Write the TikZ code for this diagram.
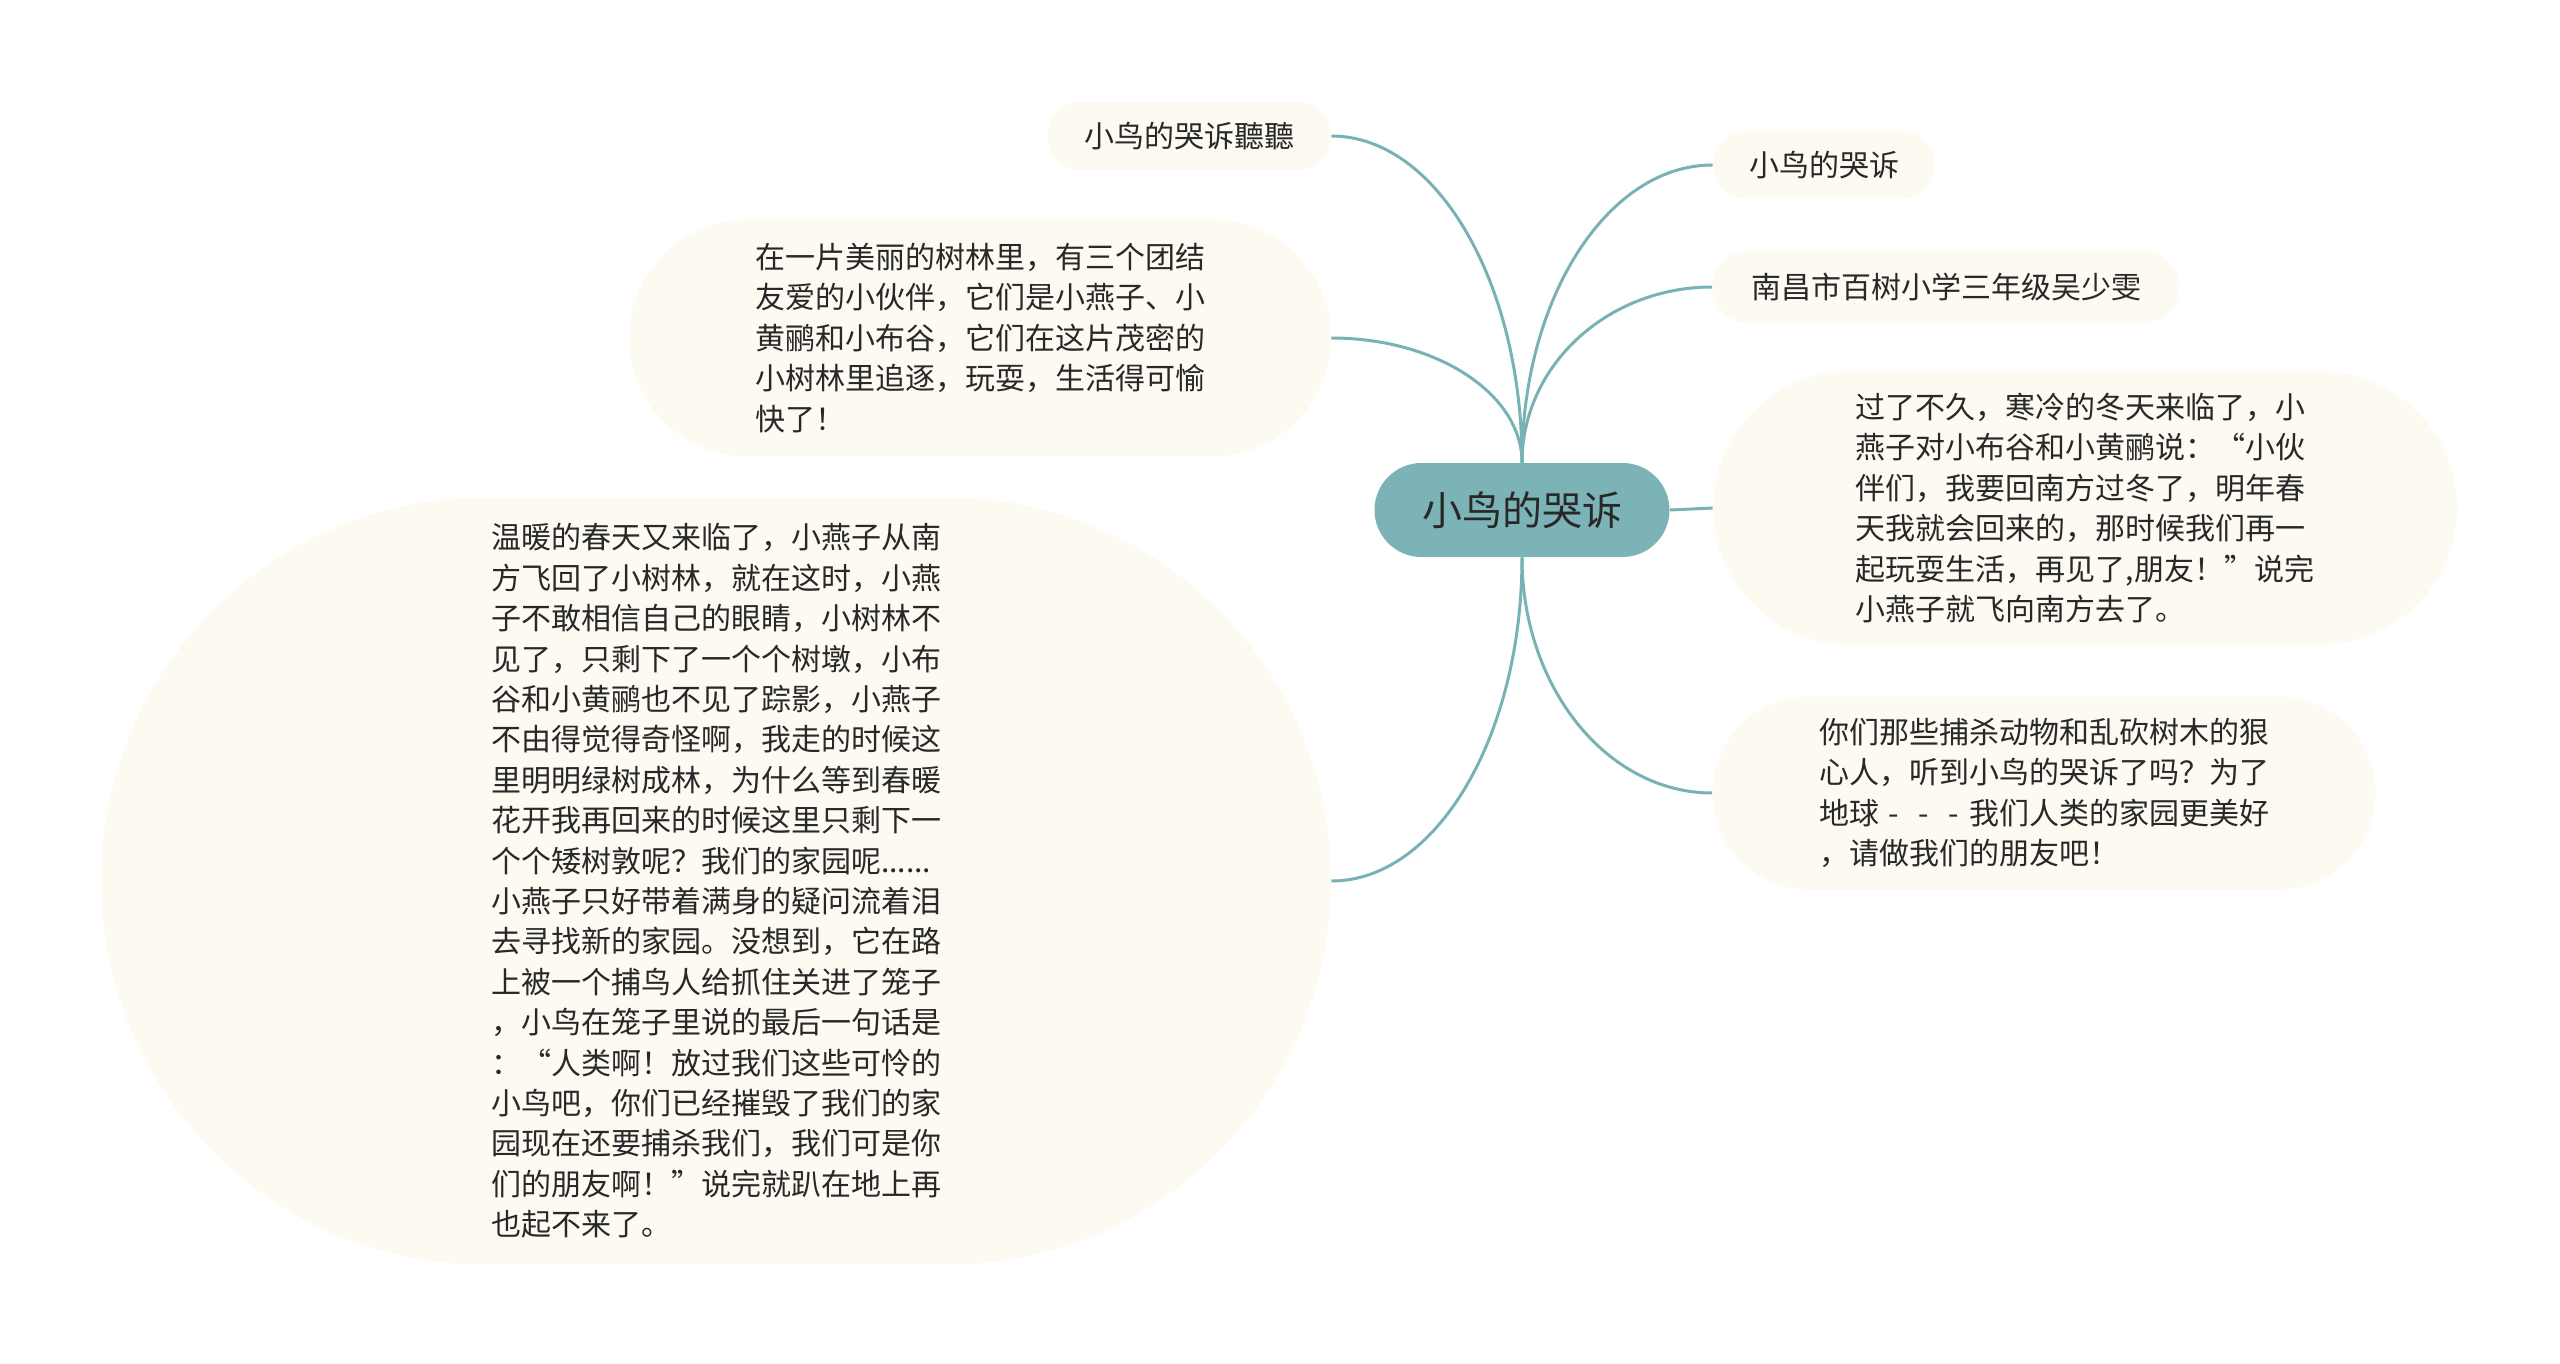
\documentclass[tikz,border=0pt]{standalone}
\usepackage{fontspec}
\setmainfont{Noto Sans CJK SC}
\usetikzlibrary{shapes.misc, backgrounds, calc}
\definecolor{branchteal}{RGB}{121,178,180}
\definecolor{rootteal}{RGB}{124,179,182}
\definecolor{cream}{RGB}{252,250,241}
\definecolor{inkgray}{RGB}{40,40,40}
\tikzstyle{bubble}=[rounded rectangle, fill=cream, inner sep=0pt, align=left, text=inkgray, font=\fontsize{15}{20.2}\selectfont]
\tikzstyle{branch}=[draw=branchteal, line width=1.5pt]
\tikzstyle{curvebranch}=[to path={.. controls ($(\tikztostart)!0.552!(\tikztostart |- \tikztotarget)$) and ($(\tikztotarget)!0.552!(\tikztostart |- \tikztotarget)$) .. (\tikztotarget)}]
\newcommand{\cjkdash}{\makebox[1em]{-}}

\begin{document}
\begin{tikzpicture}[x=0.5pt, y=-0.5pt]
    \useasboundingbox (0, 0) rectangle (2560, 1364);
% Root
    \node[rounded rectangle, fill=rootteal, inner sep=0pt, minimum width=147.5pt, minimum height=47pt, text=inkgray, font=\fontsize{20}{24}\selectfont] (root) at (1522, 510) {小鸟的哭诉};
% Left bubbles
    \node[bubble, minimum width=142pt, minimum height=34.5pt] (listen) at (1189, 136) {小鸟的哭诉聽聽};
    \node[bubble, minimum width=351pt, minimum height=118.5pt] (forest) at (980, 338) {在一片美丽的树林里，有三个团结\\友爱的小伙伴，它们是小燕子、小\\黄鹂和小布谷，它们在这片茂密的\\小树林里追逐，玩耍，生活得可愉\\快了！};
    \node[bubble, minimum width=615pt, minimum height=383.5pt] (spring) at (716, 881) {温暖的春天又来临了，小燕子从南\\方飞回了小树林，就在这时，小燕\\子不敢相信自己的眼睛，小树林不\\见了，只剩下了一个个树墩，小布\\谷和小黄鹂也不见了踪影，小燕子\\不由得觉得奇怪啊，我走的时候这\\里明明绿树成林，为什么等到春暖\\花开我再回来的时候这里只剩下一\\个个矮树敦呢？我们的家园呢......\\小燕子只好带着满身的疑问流着泪\\去寻找新的家园。没想到，它在路\\上被一个捕鸟人给抓住关进了笼子\\，小鸟在笼子里说的最后一句话是\\：“人类啊！放过我们这些可怜的\\小鸟吧，你们已经摧毁了我们的家\\园现在还要捕杀我们，我们可是你\\们的朋友啊！”说完就趴在地上再\\也起不来了。};
% Right bubbles
    \node[bubble, minimum width=111pt, minimum height=34pt] (title) at (1824, 165) {小鸟的哭诉};
    \node[bubble, minimum width=233.5pt, minimum height=36pt] (author) at (1946, 287) {南昌市百树小学三年级吴少雯};
    \node[bubble, minimum width=372pt, minimum height=136.5pt] (winter) at (2085, 508) {过了不久，寒冷的冬天来临了，小\\燕子对小布谷和小黄鹂说：“小伙\\伴们，我要回南方过冬了，明年春\\天我就会回来的，那时候我们再一\\起玩耍生活，再见了,朋友！”说完\\小燕子就飞向南方去了。};
    \node[bubble, minimum width=331.5pt, minimum height=96.5pt] (plea) at (2044, 793) {你们那些捕杀动物和乱砍树木的狠\\心人，听到小鸟的哭诉了吗？为了\\地球\cjkdash\cjkdash\cjkdash 我们人类的家园更美好\\，请做我们的朋友吧！};
% Branches
    \begin{scope}[on background layer]
    \draw[branch] (root.north) to[curvebranch] (listen.east);
    \draw[branch] (root.north) to[curvebranch] (forest.east);
    \draw[branch] (root.south) to[curvebranch] (spring.east);
    \draw[branch] (root.north) to[curvebranch] (title.west);
    \draw[branch] (root.north) to[curvebranch] (author.west);
    \draw[branch] (root.east) -- (winter.west);
    \draw[branch] (root.south) to[curvebranch] (plea.west);
    \end{scope}
\end{tikzpicture}
\end{document}
